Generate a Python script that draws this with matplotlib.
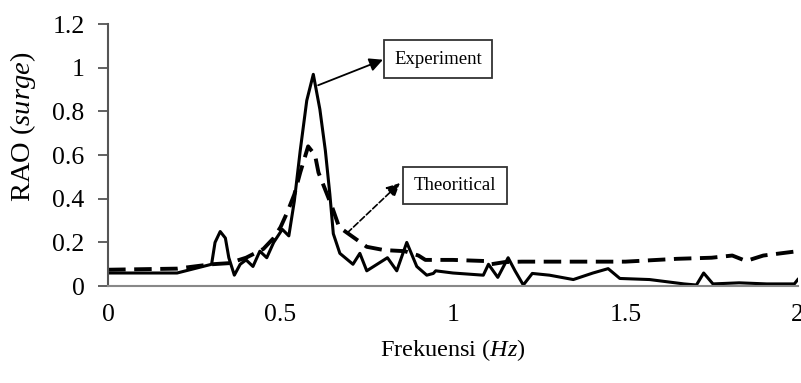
import matplotlib
matplotlib.use('Agg')
import matplotlib.pyplot as plt  # for plotting

# experiment (solid line)
exp_freq = [0, 0.1, 0.2, 0.25, 0.3, 0.31, 0.325, 0.34, 0.35, 0.366, 0.383, 0.40, 0.42, 0.44,
            0.46, 0.48, 0.505, 0.524, 0.54, 0.557, 0.576, 0.595, 0.614, 0.63, 0.643, 0.653,
            0.672, 0.71, 0.73, 0.75, 0.78, 0.81, 0.837, 0.866, 0.895, 0.924, 0.943, 0.95,
            1.0, 1.088, 1.103, 1.13, 1.16, 1.18, 1.204, 1.23, 1.28, 1.349, 1.406, 1.45,
            1.484, 1.57, 1.67, 1.706, 1.727, 1.754, 1.83, 1.91, 1.99, 2.0]
exp_rao = [0.06, 0.06, 0.06, 0.08, 0.10, 0.20, 0.25, 0.22, 0.13, 0.05, 0.10, 0.12, 0.09, 0.16,
           0.13, 0.20, 0.26, 0.23, 0.39, 0.62, 0.85, 0.97, 0.81, 0.62, 0.42, 0.24,
           0.15, 0.10, 0.15, 0.07, 0.10, 0.13, 0.07, 0.20, 0.09, 0.05, 0.058, 0.07,
           0.06, 0.05, 0.10, 0.04, 0.13, 0.07, 0.005, 0.058, 0.05, 0.03, 0.06, 0.08,
           0.035, 0.03, 0.01, 0.005, 0.06, 0.01, 0.015, 0.01, 0.01, 0.03]

# theoretical (dashed line)
th_freq = [0, 0.2, 0.3, 0.35, 0.4, 0.45, 0.48, 0.5, 0.52, 0.54, 0.557, 0.58, 0.6, 0.61, 0.63,
           0.65, 0.67, 0.71, 0.75, 0.8, 0.86, 0.9, 0.92, 1.0, 1.09, 1.11, 1.15, 1.2, 1.5,
           1.65, 1.75, 1.81, 1.85, 1.9, 2.0]
th_rao = [0.075, 0.08, 0.10, 0.105, 0.13, 0.17, 0.22, 0.27, 0.34, 0.42, 0.52, 0.64, 0.60, 0.52,
          0.44, 0.36, 0.27, 0.225, 0.18, 0.165, 0.16, 0.14, 0.12, 0.12, 0.115, 0.10, 0.11,
          0.112, 0.112, 0.125, 0.13, 0.14, 0.115, 0.14, 0.16]

x_ticks = [0, 0.5, 1, 1.5, 2]
x_labels = ['0', '0.5', '1', '1.5', '2']
y_ticks = [0, 0.2, 0.4, 0.6, 0.8, 1.0, 1.2]
y_labels = ['0', '0.2', '0.4', '0.6', '0.8', '1', '1.2']

plt.rcParams['font.family'] = ['Liberation Serif', 'DejaVu Serif']
plt.rcParams['mathtext.fontset'] = 'custom'
plt.rcParams['mathtext.rm'] = 'Liberation Serif'
plt.rcParams['mathtext.it'] = 'Liberation Serif:italic'

fig = plt.figure(figsize=(8.01, 3.83), dpi=100)
ax = fig.add_axes([0.135, 0.253, 0.861, 0.684])

ax.plot(exp_freq, exp_rao, color='black', lw=2.2, solid_joinstyle='round')
ax.plot(th_freq, th_rao, color='black', lw=2.8, dashes=(4.5, 2.2))

ax.set_xlim(0, 2)
ax.set_ylim(0, 1.2)
ax.set_xticks(x_ticks)
ax.set_xticklabels(x_labels)
ax.set_yticks(y_ticks)
ax.set_yticklabels(y_labels)
ax.tick_params(axis='y', length=7, width=1.3, color='#555555', pad=10, labelsize=18.5)
ax.tick_params(axis='x', length=0, pad=13, labelsize=18.5)

for s in ['top', 'right']:
    ax.spines[s].set_visible(False)
ax.spines['left'].set_color('#555555')
ax.spines['left'].set_linewidth(1.5)
ax.spines['bottom'].set_color('#888888')
ax.spines['bottom'].set_linewidth(1.5)

ax.set_xlabel('Frekuensi ($\\it{Hz}$)', fontsize=17.5, labelpad=8)
ax.set_ylabel('RAO ($\\it{surge}$)', fontsize=20.5)
# label sits a bit above the middle of the axis in the original
ax.yaxis.set_label_coords(-0.102, 0.607)

box = dict(boxstyle='square,pad=0.55', fc='white', ec='#333333', lw=1.3)
ax.text(0.957, 1.04, 'Experiment', fontsize=13.5, ha='center', va='center', bbox=box)
ax.text(1.006, 0.46, 'Theoritical', fontsize=13.5, ha='center', va='center', bbox=box)

# arrows from the curves to the boxes
ax.annotate('', xy=(0.797, 1.037), xytext=(0.609, 0.92),
            arrowprops=dict(arrowstyle='-|>', color='black', lw=1.3, mutation_scale=20,
                            shrinkA=0, shrinkB=0))
ax.annotate('', xy=(0.846, 0.472), xytext=(0.693, 0.243),
            arrowprops=dict(arrowstyle='-|>', color='black', lw=1.2, ls='--',
                            mutation_scale=20, shrinkA=0, shrinkB=0))

fig.savefig('out.png', dpi=100)
